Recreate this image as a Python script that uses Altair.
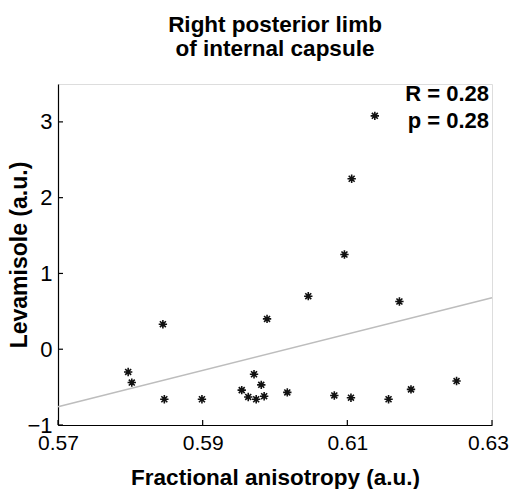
import altair as alt
import pandas as pd

# Data
fa = [0.5797, 0.5802, 0.5845, 0.5847, 0.5899, 0.5954, 0.5963, 0.5971, 0.5974,
      0.5981, 0.5985, 0.5989, 0.6017, 0.6046, 0.6082, 0.6096, 0.6105, 0.6106,
      0.6138, 0.6157, 0.6172, 0.6188, 0.6251]
lev = [-0.30, -0.44, 0.33, -0.66, -0.66, -0.54, -0.63, -0.33, -0.66,
       -0.47, -0.62, 0.40, -0.57, 0.70, -0.61, 1.25, -0.64, 2.25,
       3.08, -0.66, 0.63, -0.53, -0.42]

fit_x = [0.57, 0.63]
fit_y = [-0.76, 0.68]

x_ticks = [0.57, 0.59, 0.61, 0.63]
y_ticks = [-1, 0, 1, 2, 3]

stat_text = ["R = 0.28", "p = 0.28"]
stat_x = [0.63, 0.63]
stat_y = [3.27, 2.915]

FONT = "Liberation Sans"
W, H = 434, 341

pts = pd.DataFrame({"fa": fa, "lev": lev})
fit = pd.DataFrame({"fa": fit_x, "lev": fit_y})
xt = pd.DataFrame({"v": x_ticks})
yt = pd.DataFrame({"v": y_ticks})
st = pd.DataFrame({"t": stat_text, "x": stat_x, "y": stat_y})

xscale = alt.Scale(domain=[0.57, 0.63], nice=False, zero=False)
yscale = alt.Scale(domain=[-1, 3.5], nice=False, zero=False)

xaxis = alt.Axis(
    values=x_ticks, format=".2f", grid=False, ticks=False, tickSize=0,
    domainColor="black", domainWidth=1.2,
    labelFont=FONT, labelFontSize=21, labelColor="black", labelPadding=7,
    labelFlush=False, labelOverlap=False,
    labelOffset=alt.condition("datum.value > 0.625", alt.value(-4), alt.value(0)),
    title="Fractional anisotropy (a.u.)", titleFont=FONT, titleFontSize=22.5,
    titleFontWeight="bold", titleColor="black", titleBaseline="alphabetic",
    titleY=59, titleX=W / 2,
)
yaxis = alt.Axis(
    values=y_ticks, format="d", grid=False, ticks=False, tickSize=0,
    domainColor="black", domainWidth=1.2,
    labelFont=FONT, labelFontSize=22, labelColor="black", labelPadding=6,
    labelFlush=False, labelOverlap=False,
    title="Levamisole (a.u.)", titleFont=FONT, titleFontSize=23,
    titleFontWeight="bold", titleColor="black", titleBaseline="alphabetic",
    titleX=-32, titleY=H / 2, titleAngle=270,
)

star = "M-1,0L1,0M0,-1L0,1M-0.71,-0.71L0.71,0.71M-0.71,0.71L0.71,-0.71"

line = alt.Chart(fit).mark_line(color="#bdbdbd", strokeWidth=1.6).encode(
    x=alt.X("fa:Q", scale=xscale, axis=xaxis),
    y=alt.Y("lev:Q", scale=yscale, axis=yaxis),
)

points = alt.Chart(pts).mark_point(
    shape=star, filled=False, stroke="#111111", strokeWidth=1.6, size=70, opacity=1
).encode(
    x=alt.X("fa:Q", scale=xscale),
    y=alt.Y("lev:Q", scale=yscale),
)

xticks = alt.Chart(xt).mark_rule(color="black", strokeWidth=1.2).encode(
    x=alt.X("v:Q", scale=xscale),
    y=alt.value(H),
    y2=alt.value(H - 5),
)
yticks = alt.Chart(yt).mark_rule(color="black", strokeWidth=1.2).encode(
    y=alt.Y("v:Q", scale=yscale),
    x=alt.value(0),
    x2=alt.value(5),
)

stats = alt.Chart(st).mark_text(
    align="right", baseline="alphabetic", font=FONT, fontSize=22,
    fontWeight="bold", color="black", dx=-3
).encode(
    x=alt.X("x:Q", scale=xscale),
    y=alt.Y("y:Q", scale=yscale),
    text="t:N",
)

chart = alt.layer(line, xticks, yticks, points, stats).properties(
    width=W, height=H,
    title=alt.TitleParams(
        text=["Right posterior limb", "of internal capsule"],
        font=FONT, fontSize=22.5, fontWeight="bold", color="black",
        anchor="middle", lineHeight=24, offset=0, baseline="bottom",
    ),
    autosize=alt.AutoSizeParams(type="none"),
    padding={"left": 50, "top": 76, "right": 17, "bottom": 64},
).configure_view(stroke=None).configure(background="white")

chart.save("out.html", embed_options={"renderer": "svg", "actions": False})
